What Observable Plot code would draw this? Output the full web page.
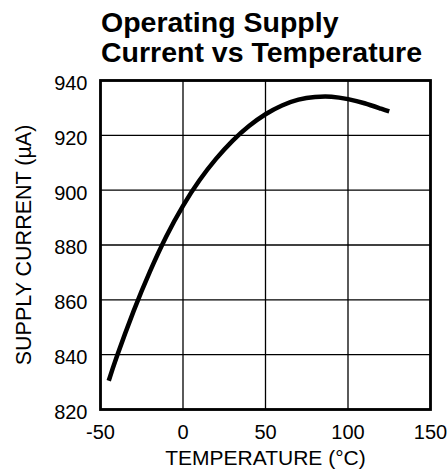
<!DOCTYPE html>
<html>
<head>
<meta charset="utf-8">
<script src="https://cdn.jsdelivr.net/npm/d3@7"></script>
<script src="https://cdn.jsdelivr.net/npm/@observablehq/plot@0.6"></script>
<style>
  body { margin: 0; background: #fff; font-family: "Liberation Sans", Arial, sans-serif; }
  #title { font: 700 28.5px/30px "Liberation Sans", Arial, sans-serif; padding: 7px 0 0 101px; height: 66px; box-sizing: border-box; color: #000; }
  svg { display: block; }
</style>
</head>
<body>
<div id="title">Operating Supply<br>Current vs Temperature</div>
<div id="chart"></div>
<script>
const temperature = [-45, -40, -30, -20, -10, 0, 10, 20, 30, 40, 50, 60, 70, 80, 90, 100, 110, 120, 125];
const current = [830.5, 839.5, 855.8, 870.4, 883.3, 894.3, 903.6, 911.4, 918.0, 923.4, 927.7, 930.9, 933.0, 934.0, 934.1, 933.2, 931.7, 929.7, 928.7];
const xTicks = [-50, 0, 50, 100, 150];
const yTicks = [820, 840, 860, 880, 900, 920, 940];
const xLabel = "TEMPERATURE (°C)";
const yLabel = "SUPPLY CURRENT (µA)";

const data = temperature.map((t, i) => ({t, c: current[i]}));

const chart = Plot.plot({
  width: 447,
  height: 405,
  marginLeft: 100,
  marginRight: 17,
  marginTop: 14,
  marginBottom: 62,
  style: {fontFamily: "'Liberation Sans', Arial, sans-serif", fontSize: "20px", color: "#000", background: "#fff"},
  x: {domain: [-50, 150]},
  y: {domain: [820, 940]},
  marks: [
    Plot.ruleX(xTicks, {stroke: "#000", strokeWidth: 1.3}),
    Plot.ruleY(yTicks, {stroke: "#000", strokeWidth: 1.3}),
    Plot.frame({stroke: "#000", strokeWidth: 2.8}),
    Plot.line(data, {x: "t", y: "c", stroke: "#000", strokeWidth: 4.5, curve: "natural", strokeLinecap: "butt"}),
    Plot.axisX(xTicks, {tickSize: 0, tickPadding: 15, label: null, fontSize: 20, tickFormat: d => String(d)}),
    Plot.axisY(yTicks, {tickSize: 0, tickPadding: 13, label: null, fontSize: 20, dy: 3, tickFormat: d => String(d)}),
    Plot.text([xLabel], {frameAnchor: "bottom", lineAnchor: "top", dy: 41, fontSize: 21, fill: "#000"}),
    Plot.text([yLabel], {frameAnchor: "left", rotate: -90, dx: -76, textAnchor: "middle", lineAnchor: "middle", fontSize: 21.5, fill: "#000"})
  ]
});
document.getElementById("chart").appendChild(chart);
</script>
</body>
</html>
